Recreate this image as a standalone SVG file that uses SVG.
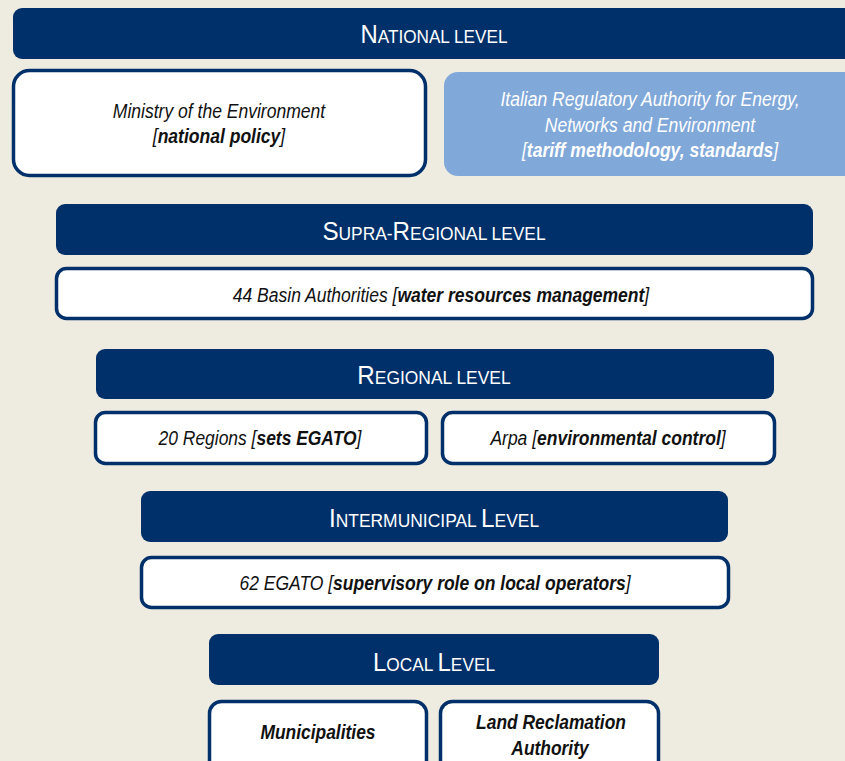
<svg xmlns="http://www.w3.org/2000/svg" width="845" height="761" viewBox="0 0 845 761">
<defs>
<style>
.bar{fill:#00306a}
.box{fill:#ffffff;stroke:#00306a;stroke-width:3.5}
.blue{fill:#80a8d9}
text{font-family:"Liberation Sans",Arial,sans-serif;text-anchor:middle}
.hd{fill:#ffffff;font-size:25px}
.hd .s{font-size:18px}
.t{fill:#111111;font-size:20px;font-style:italic}
.t .b{font-weight:bold}
.tw{fill:#ffffff;font-size:20px;font-style:italic}
.tw .b{font-weight:bold}
</style>
</defs>
<rect width="845" height="761" fill="#eeebe0"/>
<g id="national">
<rect class="bar" x="13" y="8" width="845" height="51" rx="9"/>
<text class="hd" transform="translate(434,43) scale(0.955,1)">N<tspan class="s">ATIONAL LEVEL</tspan></text>
</g>
<g id="ministry">
<rect class="box" x="13.5" y="70.5" width="412" height="105" rx="16"/>
<text class="t" transform="translate(219,118) scale(0.877,1)">Ministry of the Environment</text>
<text class="t" transform="translate(219,143) scale(0.877,1)">[<tspan class="b">national policy</tspan>]</text>
</g>
<g id="arera">
<rect class="blue" x="444" y="72" width="420" height="104" rx="14"/>
<text class="tw" transform="translate(650,106) scale(0.877,1)">Italian Regulatory Authority for Energy,</text>
<text class="tw" transform="translate(650,132) scale(0.877,1)">Networks and Environment</text>
<text class="tw" transform="translate(650,157) scale(0.877,1)">[<tspan class="b">tariff methodology, standards</tspan>]</text>
</g>
<g id="supra">
<rect class="bar" x="56" y="204" width="757" height="51" rx="9"/>
<text class="hd" transform="translate(434,240) scale(0.966,1)">S<tspan class="s">UPRA-</tspan>R<tspan class="s">EGIONAL LEVEL</tspan></text>
</g>
<g id="basin">
<rect class="box" x="56.5" y="268.5" width="756" height="50" rx="10"/>
<text class="t" transform="translate(441,302) scale(0.875,1)">44 Basin Authorities [<tspan class="b">water resources management</tspan>]</text>
</g>
<g id="regional">
<rect class="bar" x="96" y="349" width="678" height="50" rx="9"/>
<text class="hd" transform="translate(434,384) scale(0.968,1)">R<tspan class="s">EGIONAL LEVEL</tspan></text>
</g>
<g id="regions">
<rect class="box" x="95.5" y="412.5" width="331" height="51" rx="10"/>
<text class="t" transform="translate(260,445) scale(0.872,1)">20 Regions [<tspan class="b">sets EGATO</tspan>]</text>
</g>
<g id="arpa">
<rect class="box" x="442.5" y="412.5" width="332" height="51" rx="10"/>
<text class="t" transform="translate(608,445) scale(0.875,1)">Arpa [<tspan class="b">environmental control</tspan>]</text>
</g>
<g id="intermunicipal">
<rect class="bar" x="141" y="491" width="587" height="51" rx="9"/>
<text class="hd" transform="translate(434,527) scale(0.97,1)">I<tspan class="s">NTERMUNICIPAL </tspan>L<tspan class="s">EVEL</tspan></text>
</g>
<g id="egato">
<rect class="box" x="141.5" y="557.5" width="587" height="50" rx="10"/>
<text class="t" transform="translate(435,590) scale(0.875,1)">62 EGATO [<tspan class="b">supervisory role on local operators</tspan>]</text>
</g>
<g id="local">
<rect class="bar" x="209" y="634" width="450" height="51" rx="9"/>
<text class="hd" transform="translate(434,671) scale(0.96,1)">L<tspan class="s">OCAL </tspan>L<tspan class="s">EVEL</tspan></text>
</g>
<g id="municipalities">
<rect class="box" x="209.5" y="701.5" width="217" height="80" rx="12"/>
<text class="t" transform="translate(318,739) scale(0.87,1)"><tspan class="b">Municipalities</tspan></text>
</g>
<g id="landreclamation">
<rect class="box" x="440.5" y="701.5" width="218" height="80" rx="12"/>
<text class="t" transform="translate(551,729) scale(0.87,1)"><tspan class="b">Land Reclamation</tspan></text>
<text class="t" transform="translate(550,755) scale(0.87,1)"><tspan class="b">Authority</tspan></text>
</g>
<g id="connectors"></g>
</svg>
